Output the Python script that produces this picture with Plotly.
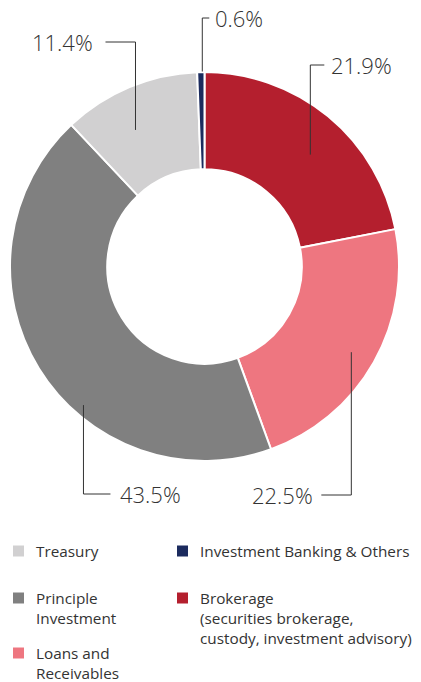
import math
import plotly.graph_objects as go

# ---- data ----
labels = ["Brokerage", "Loans and Receivables", "Principle Investment", "Treasury",
          "Investment Banking & Others"]
values = [21.9, 22.5, 43.5, 11.4, 0.6]
colors = ["#b41f2e", "#ee7680", "#808080", "#d1d0d1", "#1b2b5e"]
legend_order = ["Treasury", "Investment Banking & Others", "Principle Investment",
                "Brokerage", "Loans and Receivables"]
legend_lines = {
    "Treasury": ["Treasury"],
    "Investment Banking & Others": ["Investment Banking & Others"],
    "Principle Investment": ["Principle", "Investment"],
    "Brokerage": ["Brokerage", "(securities brokerage,", "custody, investment advisory)"],
    "Loans and Receivables": ["Loans and", "Receivables"],
}

# ---- layout helpers (pixel geometry) ----
W, H = 421, 682
cx, cy, R = 204.5, 266.5, 194.5
HOLE = 0.5


def px(x):
    return x / W


def py(y):
    return 1 - y / H


# leader-line styling per slice: position within slice, anchor radius, label y,
# direction, stub length, text gap
lead_frac = [0.55, 0.51, 0.39, 0.40, 0.7]
lead_r = [154, 170, 184, 153, 195]
lead_y = [65, 495, 494, 42, 18]
lead_dir = [1, -1, 1, -1, 1]
lead_stub = [14, 30, 27, 30, 7]
lead_gap = [5, 6, 8, 10, 4]

fig = go.Figure(go.Pie(
    labels=labels, values=values, sort=False, direction="clockwise", rotation=0,
    hole=HOLE, textinfo="none", hoverinfo="label+percent",
    marker=dict(colors=colors, line=dict(color="white", width=2)),
    domain=dict(x=[px(cx - R), px(cx + R)], y=[py(cy + R), py(cy - R)]),
    showlegend=False,
))

shapes = []
annotations = []
total = sum(values)
cum = 0.0
for i, v in enumerate(values):
    ang = (cum + v * lead_frac[i]) / total * 2 * math.pi
    cum += v
    ax = cx + lead_r[i] * math.sin(ang)
    ay = cy - lead_r[i] * math.cos(ang)
    ly = lead_y[i]
    ex = ax + lead_dir[i] * lead_stub[i]
    shapes.append(dict(type="path", xref="paper", yref="paper",
                       path=f"M {px(ax)} {py(ay)} L {px(ax)} {py(ly)} L {px(ex)} {py(ly)}",
                       line=dict(color="#333333", width=1)))
    annotations.append(dict(
        x=px(ex + lead_dir[i] * lead_gap[i]), y=py(ly), xref="paper", yref="paper",
        text=f"{v}%", showarrow=False,
        xanchor="left" if lead_dir[i] > 0 else "right", yanchor="middle",
        font=dict(family="Open Sans", size=22, color="#333333", weight=300)))

# custom legend
leg_pos = [(13, 551), (177, 551), (13, 598), (177, 598), (13, 653)]
sq = 11
fs = 15.3
for name, (lx, ly) in zip(legend_order, leg_pos):
    c = colors[labels.index(name)]
    shapes.append(dict(type="rect", xref="paper", yref="paper",
                       x0=px(lx), x1=px(lx + sq), y0=py(ly + sq / 2), y1=py(ly - sq / 2),
                       fillcolor=c, line=dict(width=0)))
    annotations.append(dict(
        x=px(lx + 21), y=py(ly - 12), xref="paper", yref="paper",
        text="<br>".join(legend_lines[name]), showarrow=False, align="left",
        xanchor="left", yanchor="top",
        font=dict(family="Open Sans", size=fs, color="#333333", weight=400)))

fig.update_layout(
    width=W, height=H, margin=dict(l=0, r=0, t=0, b=0),
    paper_bgcolor="white", plot_bgcolor="white",
    shapes=shapes, annotations=annotations,
)
fig.write_html("out.html", post_script="document.body.style.margin='0';",
               config={"displayModeBar": False})
